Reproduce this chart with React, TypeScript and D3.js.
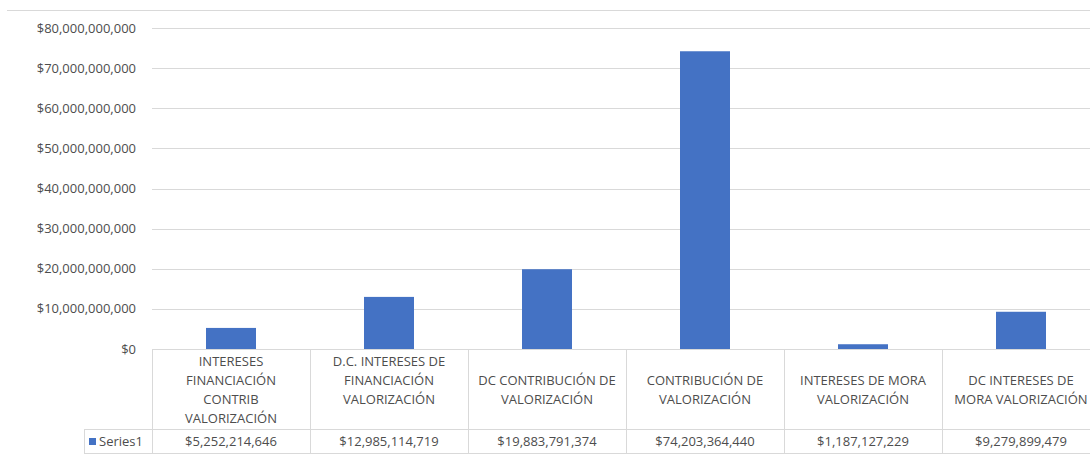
import React from "react";
import * as d3 from "d3";

const categories: string[][] = [
  ["INTERESES", "FINANCIACIÓN", "CONTRIB", "VALORIZACIÓN"],
  ["D.C. INTERESES DE", "FINANCIACIÓN", "VALORIZACIÓN"],
  ["DC CONTRIBUCIÓN DE", "VALORIZACIÓN"],
  ["CONTRIBUCIÓN DE", "VALORIZACIÓN"],
  ["INTERESES DE MORA", "VALORIZACIÓN"],
  ["DC INTERESES DE", "MORA VALORIZACIÓN"],
];
const values: number[] = [5252214646, 12985114719, 19883791374, 74203364440, 1187127229, 9279899479];
const seriesName = "Series1";
const yTicks: number[] = [0, 1e10, 2e10, 3e10, 4e10, 5e10, 6e10, 7e10, 8e10];

const W = 1090, H = 475;
const plotLeft = 152, plotRight = 1100;
const yTop = 28, yBottom = 349;
const tableRow1 = 429, tableBottom = 453, legendLeft = 84;
const font = "'Open Sans', sans-serif";
const textColor = "#4d4d4d";
const gridColor = "#d9d9d9";
const barColor = "#4472C4";
const fs = 13;

const fmt = (v: number) => "$" + d3.format(",")(Math.round(v));

export default function App() {
  const x = d3.scaleBand<number>().domain(d3.range(categories.length)).range([plotLeft, plotRight]).paddingInner(0).paddingOuter(0);
  const y = d3.scaleLinear().domain([0, 8e10]).range([yBottom, yTop]);
  const barW = 50;
  return (
    <svg width={W} height={H} style={{ position: "absolute", left: 0, top: 0, background: "#fff" }}>
      <line x1={7} x2={W} y1={10.5} y2={10.5} stroke={gridColor} />
      {yTicks.map((t) => (
        <g key={t}>
          {t > 0 && <line x1={plotLeft} x2={W} y1={Math.round(y(t)) + 0.5} y2={Math.round(y(t)) + 0.5} stroke={gridColor} />}
          <text x={136} y={y(t)} dy="0.35em" textAnchor="end" fontFamily={font} fontSize={fs} fill={textColor}>
            {fmt(t)}
          </text>
        </g>
      ))}
      {values.map((v, i) => (
        <rect key={i} x={x(i)! + x.bandwidth() / 2 - barW / 2} width={barW} y={y(v)} height={yBottom - y(v)} fill={barColor} />
      ))}
      {/* table */}
      <g stroke={gridColor} fill="none">
        <line x1={plotLeft} x2={W} y1={yBottom + 0.5} y2={yBottom + 0.5} />
        <line x1={legendLeft} x2={W} y1={tableRow1 + 0.5} y2={tableRow1 + 0.5} />
        <line x1={legendLeft} x2={W} y1={tableBottom + 0.5} y2={tableBottom + 0.5} />
        <line x1={legendLeft + 0.5} x2={legendLeft + 0.5} y1={tableRow1} y2={tableBottom} />
        {d3.range(categories.length).map((i) => (
          <line key={i} x1={x(i)! + 0.5} x2={x(i)! + 0.5} y1={yBottom} y2={tableBottom} />
        ))}
      </g>
      {categories.map((lines, i) => {
        const cx = x(i)! + x.bandwidth() / 2;
        const start = lines.length >= 3 ? 361 : 380;
        return (
          <text key={i} textAnchor="middle" fontFamily={font} fontSize={fs} fill={textColor}>
            {lines.map((l, j) => (
              <tspan key={j} x={cx} y={start + j * 19} dy="0.35em">{l}</tspan>
            ))}
          </text>
        );
      })}
      {values.map((v, i) => (
        <text key={i} x={x(i)! + x.bandwidth() / 2} y={441.5} dy="0.35em" textAnchor="middle" fontFamily={font} fontSize={fs} fill={textColor}>
          {fmt(v)}
        </text>
      ))}
      <rect x={89} y={438} width={7} height={7} fill={barColor} />
      <text x={99} y={441.5} dy="0.35em" fontFamily={font} fontSize={fs} fill={textColor}>{seriesName}</text>
    </svg>
  );
}
